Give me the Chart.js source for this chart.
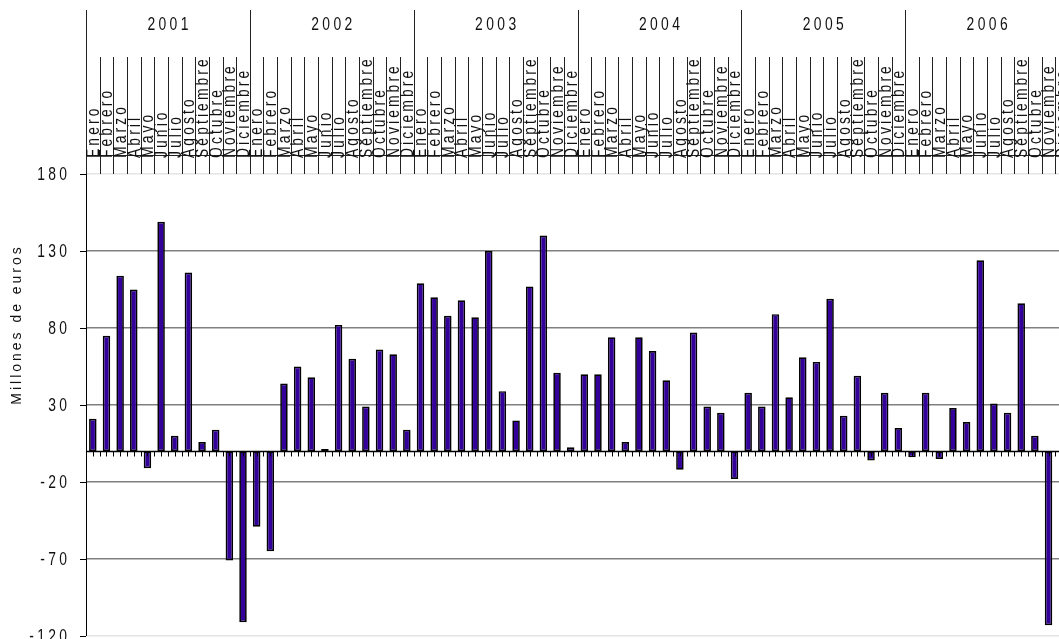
<!DOCTYPE html>
<html>
<head>
<meta charset="utf-8">
<script src="https://cdn.jsdelivr.net/npm/chart.js"></script>
<style>
  html, body { margin: 0; padding: 0; background: #fff; overflow: hidden; }
  #wrap { width: 1080px; height: 639px; }
</style>
</head>
<body>
<div id="wrap"><canvas id="myChart"></canvas></div>
<script>
const years = ['2001', '2002', '2003', '2004', '2005', '2006'];
const meses = ['Enero', 'Febrero', 'Marzo', 'Abril', 'Mayo', 'Junio', 'Julio', 'Agosto',
  'Septiembre', 'Octubre', 'Noviembre', 'Diciembre'];
// millones de euros, one value per month (last month is off the picture)
const valores = [
  21, 75, 114, 105, -11, 149, 10, 116, 6, 14, -71, -111,
  -49, -65, 44, 55, 48, 1.5, 82, 60, 29, 66, 63, 14,
  109, 100, 88, 98, 87, 130, 39, 20, 107, 140, 51, 2.5,
  50, 50, 74, 6, 74, 65, 46, -12, 77, 29, 25, -18,
  38, 29, 89, 35, 61, 58, 99, 23, 49, -6, 38, 15,
  -4, 38, -5, 28, 19, 124, 31, 25, 96, 10, -113, null
];
const yTicks = [-120, -70, -20, 30, 80, 130, 180];
const yTitle = 'Millones de euros';

const labels = [];
years.forEach(y => meses.forEach(m => labels.push(m + ' ' + y)));

const FONT = '"Liberation Sans", Arial, sans-serif';

// text with wide letter gaps and a horizontal squeeze, like the original
function spaced(ctx, str, x, y, align, sx, gap) {
  const chars = [...str];
  const w = chars.map(c => ctx.measureText(c).width * sx);
  const total = w.reduce((s, v) => s + v, 0) + gap * (chars.length - 1);
  let cx = align === 'right' ? x - total : align === 'center' ? x - total / 2 : x;
  ctx.textAlign = 'left';
  chars.forEach((c, i) => {
    ctx.save();
    ctx.translate(cx, y);
    ctx.scale(sx, 1);
    ctx.fillText(c, 0, 0);
    ctx.restore();
    cx += w[i] + gap;
  });
}

const decor = {
  id: 'decor',
  afterDraw(chart) {
    const { ctx, chartArea: a, scales: { x, y } } = chart;
    const slot = x.getPixelForValue(1) - x.getPixelForValue(0);
    const left = i => x.getPixelForValue(i) - slot / 2;
    ctx.save();
    ctx.fillStyle = '#111';
    ctx.strokeStyle = '#000';

    // y axis line (goes up through the header)
    ctx.lineWidth = 1;
    ctx.beginPath();
    ctx.moveTo(a.left + 0.5, 10);
    ctx.lineTo(a.left + 0.5, a.bottom);
    ctx.stroke();

    // y ticks and labels
    ctx.font = '19px ' + FONT;
    ctx.textBaseline = 'middle';
    y.ticks.forEach(t => {
      const py = Math.round(y.getPixelForValue(t.value)) + 0.5;
      ctx.beginPath();
      ctx.moveTo(a.left - 6, py);
      ctx.lineTo(a.left, py);
      ctx.stroke();
      spaced(ctx, String(t.value), 67, py, 'right', 0.73, 3.3);
    });

    // zero line with small ticks
    const y0 = Math.round(y.getPixelForValue(0)) + 0.5;
    ctx.lineWidth = 1.5;
    ctx.beginPath();
    ctx.moveTo(a.left, y0);
    ctx.lineTo(a.right, y0);
    ctx.stroke();
    ctx.lineWidth = 1;
    ctx.beginPath();
    for (let i = 0; i < labels.length * 2; i++) {
      const px = Math.round(a.left + i * slot / 2) + 0.5;
      ctx.moveTo(px, y0);
      ctx.lineTo(px, y0 + 5);
    }
    ctx.stroke();

    // header: month separators, year separators, baseline
    ctx.strokeStyle = '#222';
    ctx.beginPath();
    for (let i = 0; i <= labels.length; i++) {
      const px = Math.round(left(i)) + 0.5;
      ctx.moveTo(px, i % 12 === 0 ? 10 : 57);
      ctx.lineTo(px, a.top);
    }
    ctx.moveTo(a.left, 155.5);
    ctx.lineTo(a.right, 155.5);
    ctx.stroke();

    // year labels
    ctx.textBaseline = 'middle';
    years.forEach((yr, k) => {
      const cx = (left(k * 12) + left(k * 12 + 12)) / 2;
      spaced(ctx, yr, cx, 25, 'center', 0.73, 3.4);
    });

    // month labels, rotated
    ctx.font = '18px ' + FONT;
    ctx.textBaseline = 'alphabetic';
    labels.forEach((lab, i) => {
      const mes = meses[i % 12];
      ctx.save();
      ctx.translate(left(i) + slot - 1, 158);
      ctx.rotate(-Math.PI / 2);
      spaced(ctx, mes, 0, 0, 'left', 0.77, 3.1);
      ctx.restore();
    });

    // y title
    ctx.font = '15px ' + FONT;
    ctx.save();
    ctx.translate(21, 326);
    ctx.rotate(-Math.PI / 2);
    spaced(ctx, yTitle, 0, 0, 'center', 0.93, 3);
    ctx.restore();

    ctx.restore();
  }
};

new Chart(document.getElementById('myChart'), {
  type: 'bar',
  data: {
    labels: labels,
    datasets: [{
      data: valores,
      backgroundColor: '#330099',
      borderColor: '#000',
      borderWidth: 1.7,
      borderSkipped: false,
      barPercentage: 0.55,
      categoryPercentage: 1
    }]
  },
  options: {
    responsive: true,
    maintainAspectRatio: false,
    animation: false,
    devicePixelRatio: 1,
    layout: { padding: { top: 174, right: 11, bottom: 3, left: 0 } },
    plugins: { legend: { display: false }, tooltip: { enabled: false } },
    scales: {
      x: { display: false, offset: true },
      y: {
        min: -120,
        max: 180,
        afterBuildTicks: s => { s.ticks = yTicks.map(v => ({ value: v })); },
        afterFit: s => { s.width = 86; },
        ticks: { display: false },
        border: { display: false },
        grid: {
          drawTicks: false,
          color: c => (c.tick.value === 180 || c.tick.value === -120) ? '#e4e4e4' : '#808080',
          lineWidth: 1.5
        }
      }
    }
  },
  plugins: [decor]
});
</script>
</body>
</html>
